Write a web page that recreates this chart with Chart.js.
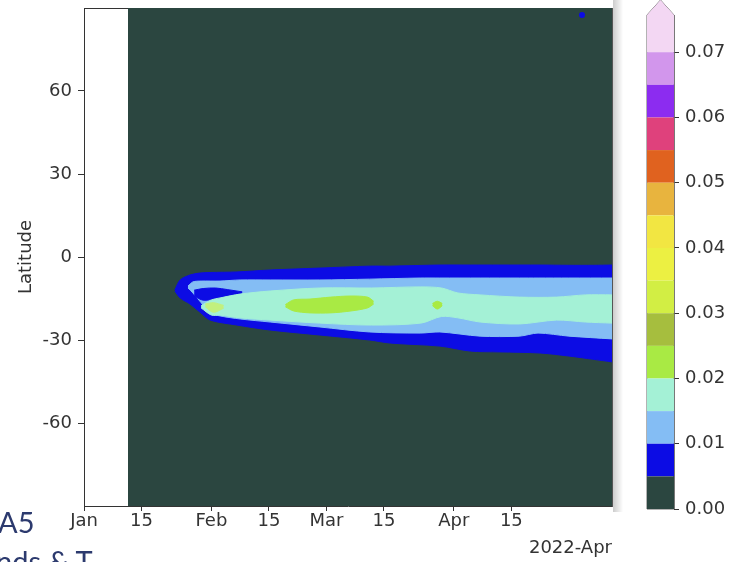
<!DOCTYPE html>
<html>
<head>
<meta charset="utf-8">
<script src="https://cdn.jsdelivr.net/npm/chart.js@4"></script>
<style>
  html, body { margin: 0; padding: 0; background: #fff; }
  body { width: 744px; height: 562px; position: relative; overflow: hidden; }
  canvas { position: absolute; top: 0; }
  #main { left: 0; }
  #cbar { left: 600px; }
  .shadow { position: absolute; left: 613px; top: 0; width: 10px; height: 512px;
            background: linear-gradient(to right, rgba(0,0,0,0.2), rgba(0,0,0,0)); }
  .slide { position: absolute; color: #2c3a6e; font-family: Lato, "Open Sans", sans-serif; font-size: 29px; white-space: nowrap; }
</style>
</head>
<body>
<canvas id="main" width="744" height="562"></canvas>
<div class="shadow"></div>
<canvas id="cbar" width="144" height="562"></canvas>
<div class="slide" style="left:-2px; top:504px;">A5</div>
<div class="slide" style="left:-4px; top:543px;">nds &amp; T</div>
<script>
// x axis: days since 2022-01-01
var tickDays = [0, 14, 31, 45, 59, 73, 90, 104];
var tickLabels = ['Jan', '15', 'Feb', '15', 'Mar', '15', 'Apr', '15'];
var latTicks = [-60, -30, 0, 30, 60];
var dataStart = 10.7, dataEnd = 128.5;

// contour >= 0.005 (blue)
var blueDays = [22.1, 23.4, 25.8, 28.2, 30.7, 37.2, 45.3, 57.4, 69.5, 74.5, 86.6, 94.0, 101.2, 111.0, 118.0, 124.0, 128.5];
var blueTop  = [-11.9, -8.3, -6.5, -5.8, -5.6, -5.4, -4.7, -4.0, -3.3, -3.3, -2.9, -2.9, -2.9, -2.9, -3.0, -3.0, -2.9];
var blueBot  = [-12.3, -14.8, -17.0, -19.9, -22.8, -24.6, -26.4, -28.2, -30.0, -31.1, -32.2, -34.0, -34.3, -34.7, -35.8, -37.0, -37.9];

// contour >= 0.01 (light blue)
var lblueDays = [25.3, 26.5, 28.5, 30.7, 33.1, 38.0, 45.3, 57.4, 69.5, 81.8, 86.6, 96.4, 106.0, 110.5, 118.0, 128.5];
var lblueTop  = [-10.5, -9.0, -8.7, -8.7, -8.7, -8.3, -8.3, -8.3, -8.0, -7.6, -7.6, -7.6, -7.6, -7.6, -7.6, -7.6];
var lblueBot  = [-11.2, -13.0, -16.5, -20.2, -21.3, -22.4, -23.5, -25.3, -27.1, -27.5, -27.1, -28.6, -28.6, -27.5, -28.6, -29.6];

// blue streak inside the light blue near the start
var streakDays = [26.8, 29.0, 32.0, 35.0, 38.5];
var streakTop  = [-12.0, -11.4, -11.2, -11.8, -12.6];
var streakBot  = [-14.2, -15.6, -15.2, -14.2, -13.0];

// contour >= 0.015 (aquamarine)
var aquaDays = [28.5, 31.0, 33.1, 38.0, 45.3, 57.4, 70.0, 82.0, 87.0, 91.0, 96.4, 106.0, 115.0, 122.0, 128.5];
var aquaTop  = [-17.6, -15.5, -14.8, -13.4, -12.3, -11.2, -11.2, -10.8, -11.2, -13.0, -13.7, -14.5, -14.5, -13.7, -13.7];
var aquaBot  = [-18.4, -21.0, -21.0, -22.0, -22.8, -23.9, -24.6, -23.9, -21.5, -22.0, -23.5, -24.2, -22.8, -23.5, -23.9];

// contour >= 0.02 (lime)
var limeDays = [49.0, 51.0, 55.0, 60.0, 65.0, 69.0, 70.5];
var limeTop  = [-17.2, -15.5, -15.2, -14.5, -14.1, -14.5, -16.0];
var limeBot  = [-18.0, -19.5, -20.2, -20.2, -19.5, -18.4, -17.0];
var lime2Days = [29.5, 31.5, 34.0];
var lime2Top  = [-17.0, -16.5, -17.5];
var lime2Bot  = [-18.0, -20.0, -18.5];
var lime3Days = [84.8, 86.0, 87.2];
var lime3Top  = [-16.8, -16.0, -16.8];
var lime3Bot  = [-17.6, -18.8, -17.6];

// lone blue spot near the pole
var spotDay = 121.2, spotLat = 87.5;

// colour bar
var cbLevels = [0, 0.005, 0.01, 0.015, 0.02, 0.025, 0.03, 0.035, 0.04, 0.045, 0.05, 0.055, 0.06, 0.065, 0.07];
var cbColors = ['#2b4640', '#0c0ce4', '#84bdf4', '#a4f1d6', '#a9ea44', '#a6be3e', '#d2ee44', '#ecf042',
                '#f2e642', '#e8b43e', '#e0621f', '#df417c', '#8c2cf0', '#d296ec'];
var cbExtendColor = '#f3d7f3';
var cbTicks = [0, 0.01, 0.02, 0.03, 0.04, 0.05, 0.06, 0.07];
var cbRectTop = 0.0757, cbApex = 0.078;

var dark = cbColors[0];
var tickFont = { family: 'DejaVu Sans', size: 18 };

function pts(days, lats) {
    return days.map(function(d, i) { return { x: d, y: lats[i] }; });
}

// a filled band between a top and a bottom edge
function band(days, top, bot, color, order) {
    return [
        { data: pts(days, top), fill: '+1', backgroundColor: color, borderColor: color,
          borderWidth: 1, pointRadius: 0, tension: 0.3, order: order },
        { data: pts(days, bot), fill: false, borderColor: color,
          borderWidth: 1, pointRadius: 0, tension: 0.3, order: order }
    ];
}

// stop Chart.js from reserving half a label of room at the ends
function noEdgePad(s) {
    s.paddingTop = 0; s.paddingBottom = 0; s.paddingLeft = 0; s.paddingRight = 0;
}

var datasets = [
    { data: pts([dataStart, dataEnd], [90, 90]), fill: { value: -90 }, backgroundColor: dark,
      borderWidth: 0, pointRadius: 0, order: 10 }
];
datasets = datasets.concat(
    band(blueDays, blueTop, blueBot, cbColors[1], 6),
    band(lblueDays, lblueTop, lblueBot, cbColors[2], 5),
    band(streakDays, streakTop, streakBot, cbColors[1], 4),
    band(aquaDays, aquaTop, aquaBot, cbColors[3], 3),
    band(limeDays, limeTop, limeBot, cbColors[4], 2),
    band(lime2Days, lime2Top, lime2Bot, '#c2f07e', 2),
    band(lime3Days, lime3Top, lime3Bot, cbColors[4], 2)
);
datasets.push({ data: [{ x: spotDay, y: spotLat }], showLine: false, pointRadius: 3,
                pointBackgroundColor: cbColors[1], pointBorderWidth: 0, order: 1 });

new Chart(document.getElementById('main'), {
    type: 'line',
    data: { datasets: datasets },
    options: {
        responsive: false,
        animation: false,
        layout: { padding: { left: 0, right: 132, top: 8, bottom: 4 } },
        plugins: { legend: { display: false }, tooltip: { enabled: false } },
        scales: {
            x: {
                type: 'linear', min: 0, max: dataEnd,
                afterFit: function(s) { s.height = 52; noEdgePad(s); },
                afterBuildTicks: function(s) { s.ticks = tickDays.map(function(v) { return { value: v }; }); },
                ticks: { callback: function(v, i) { return tickLabels[i]; }, color: '#333', font: tickFont,
                         padding: 0, maxRotation: 0, autoSkip: false },
                grid: { display: true, drawOnChartArea: false, drawTicks: true, tickLength: 5, color: '#333' },
                border: { display: true, color: '#333', width: 1 },
                title: { display: true, text: '2022-Apr', align: 'end', color: '#333',
                         font: { family: 'DejaVu Sans', size: 18, lineHeight: 1 }, padding: { top: 0, bottom: 1 } }
            },
            x2: {
                type: 'linear', position: 'top', min: 0, max: dataEnd,
                afterFit: function(s) { s.height = 0; noEdgePad(s); },
                ticks: { display: false }, grid: { display: false },
                border: { display: true, color: '#333', width: 1 }
            },
            y: {
                type: 'linear', min: -90, max: 90,
                afterFit: function(s) { s.width = 84; noEdgePad(s); },
                afterBuildTicks: function(s) { s.ticks = latTicks.map(function(v) { return { value: v }; }); },
                ticks: { color: '#333', font: tickFont, padding: 6 },
                grid: { display: true, drawOnChartArea: false, drawTicks: true, tickLength: 6, color: '#333' },
                border: { display: true, color: '#333', width: 1 },
                title: { display: true, text: 'Latitude', color: '#333',
                         font: { family: 'DejaVu Sans', size: 18 }, padding: { top: 16, bottom: 0 } }
            },
            y2: {
                type: 'linear', position: 'right', min: -90, max: 90,
                afterFit: function(s) { s.width = 0; noEdgePad(s); },
                ticks: { display: false }, grid: { display: false },
                border: { display: true, color: '#555', width: 1 }
            }
        }
    }
});

// colour bar
var cbSets = [];
for (var i = 0; i < cbColors.length; i++) {
    cbSets.push({ data: [{ x: 0, y: cbLevels[i + 1] }, { x: 1, y: cbLevels[i + 1] }], fill: { value: cbLevels[i] },
                  backgroundColor: cbColors[i], borderWidth: 0, pointRadius: 0 });
}
cbSets.push({ data: [{ x: 0, y: 0.07 }, { x: 0, y: cbRectTop }, { x: 0.5, y: cbApex }, { x: 1, y: cbRectTop }, { x: 1, y: 0.07 }],
              fill: { value: 0.07 }, backgroundColor: cbExtendColor, borderWidth: 0, pointRadius: 0 });
cbSets.push({ data: [{ x: 0, y: 0 }, { x: 0, y: cbRectTop }, { x: 0.5, y: cbApex }, { x: 1, y: cbRectTop }, { x: 1, y: 0 }, { x: 0, y: 0 }],
              fill: false, borderColor: '#666', borderWidth: 1, pointRadius: 0, clip: 3 });

new Chart(document.getElementById('cbar'), {
    type: 'line',
    data: { datasets: cbSets },
    options: {
        responsive: false,
        animation: false,
        layout: { padding: { left: 47, right: 0, top: 0, bottom: 53 } },
        plugins: { legend: { display: false }, tooltip: { enabled: false } },
        scales: {
            x: { type: 'linear', min: 0, max: 1, display: false },
            y: {
                type: 'linear', position: 'right', min: 0, max: cbApex,
                afterFit: function(s) { s.width = 70; noEdgePad(s); },
                afterBuildTicks: function(s) { s.ticks = cbTicks.map(function(v) { return { value: v }; }); },
                ticks: { callback: function(v) { return v.toFixed(2); }, color: '#333', font: tickFont, padding: 6 },
                grid: { display: true, drawOnChartArea: false, drawTicks: true, tickLength: 5, color: '#333' },
                border: { display: false }
            }
        }
    }
});
</script>
</body>
</html>
